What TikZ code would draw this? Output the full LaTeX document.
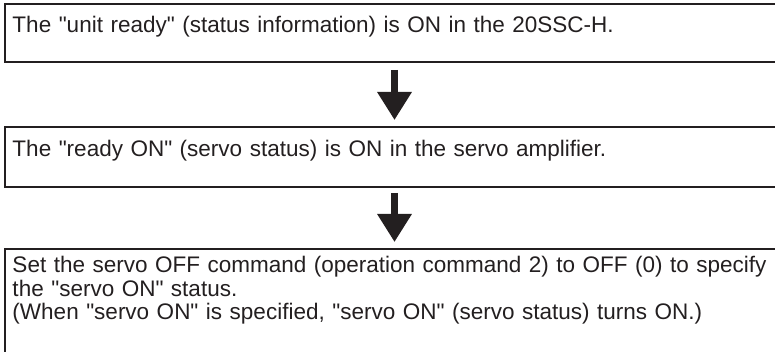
\documentclass[tikz,border=0pt]{standalone}
\usepackage{fontspec}
\setmainfont{Liberation Sans}[Ligatures=TeXOff]
\usetikzlibrary{positioning,arrows.meta}
\definecolor{inkgray}{RGB}{35,31,32}

\begin{document}
\begin{tikzpicture}[x=1pt, y=1pt]
        % Box and arrow style definitions
        \tikzset{
            box/.style={draw=inkgray, line width=2pt, text=inkgray, inner xsep=8pt, inner ysep=0pt,
                outer sep=0pt, text width=764pt, align=left, font=\fontsize{22.5pt}{23.5pt}\selectfont},
            flow/.style={draw=inkgray, line width=6.5pt, -{Triangle[length=28pt, width=33pt]}}
        }

        \useasboundingbox (0,0) rectangle (775,352);
        \clip (0,0) rectangle (775,352);

        % ==========================================
        % BOXES (open to the right, cut at the page edge)
        % ==========================================
        \node[box, text height=28.5pt, text depth=29.5pt, anchor=north west] (ready) at (4.5,347.5)
            {The "unit ready" (status information) is ON in the 20SSC-H.};
        \node[box, text height=30pt, text depth=30pt, below=64.5pt of ready] (amp)
            {The "ready ON" (servo status) is ON in the servo amplifier.};
        \node[box, text height=24pt, text depth=90pt, below=62pt of amp] (servo)
            {Set the servo OFF command (operation command 2) to OFF (0) to specify\\
             the "servo ON" status.\\
             (When "servo ON" is specified, "servo ON" (servo status) turns ON.)};

        % ==========================================
        % ARROWS
        % ==========================================
        \draw[flow, shorten <=7.5pt, shorten >=7pt] (ready) -- (amp);
        \draw[flow, shorten <=6pt, shorten >=7pt] (amp) -- (servo);

\end{tikzpicture}
\end{document}
